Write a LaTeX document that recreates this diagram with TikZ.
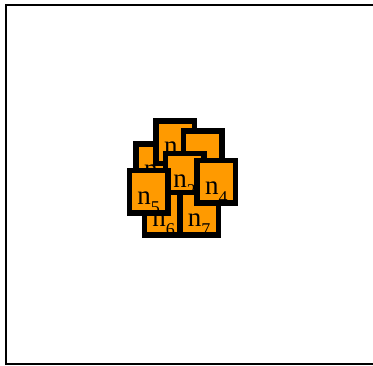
\documentclass[tikz,border=0pt]{standalone}
\usepackage{fontspec}
\setmainfont{Liberation Serif}
\definecolor{blkfill}{HTML}{FF9A00}
\newcommand{\nlab}[1]{n\raisebox{-9pt}{\fontsize{18}{18}\selectfont #1}}
\tikzset{
  blk/.style={draw=black, line width=5.5pt, fill=blkfill, inner sep=0pt,
    minimum width=38.5pt, minimum height=42.5pt,
    text height=25pt, text depth=0pt, font=\fontsize{27}{32}\selectfont},
}
\begin{document}
\begin{tikzpicture}[x=1pt,y=-1pt]
\useasboundingbox (0,0) rectangle (373,365);
\draw[line width=1.3pt] (6,5) rectangle (390,364);
% the cluster, back to front
\node[blk] (n0) at (155.3,165) {\nlab{0}};
\node[blk] (n1) at (175.3,142.3) {\nlab{1}};
\node[blk] (n3) at (202.7,152.3) {\nlab{3}};
\node[blk] (n2) at (184.5,174.5) {\nlab{2}};
\node[blk] (n6) at (163.7,213.7) {\nlab{6}};
\node[blk] (n7) at (199,213.7) {\nlab{7}};
\node[blk] (n4) at (216.3,181.5) {\nlab{4}};
\node[blk] (n5) at (148.7,191.5) {\nlab{5}};
\end{tikzpicture}
\end{document}
